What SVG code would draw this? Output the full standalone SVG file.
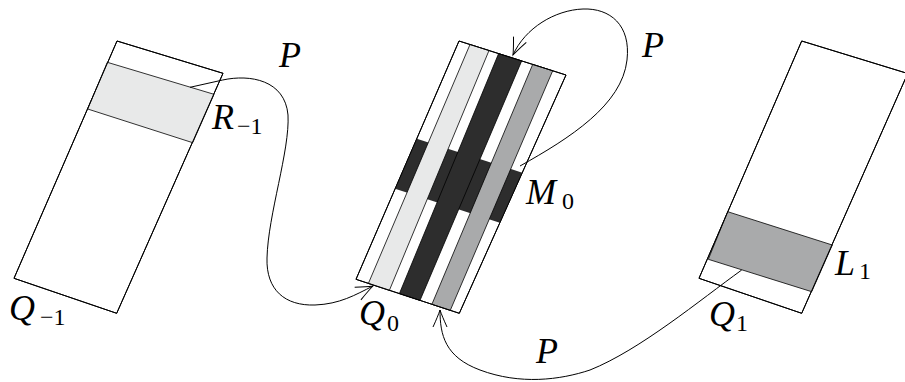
<svg xmlns="http://www.w3.org/2000/svg" width="905" height="382" viewBox="0 0 905 382">
<style>
.out{fill:none;stroke:#000;stroke-width:1}
.wh{fill:#fff;stroke:#000;stroke-width:1}
.lg{fill:#e8e9e9;stroke:#000;stroke-width:0.8}
.mg{fill:#a9aaab;stroke:#000;stroke-width:0.8}
.dk{fill:#2d2d2d;stroke:#000;stroke-width:0.8}
.band{fill:#2d2d2d;stroke:none}
.conn{fill:none;stroke:#000;stroke-width:1}
.lab{font-family:"Liberation Serif","DejaVu Serif",serif;font-style:italic;font-size:36px;fill:#000}
.sub{font-family:"Liberation Serif","DejaVu Serif",serif;font-size:24px;fill:#000}
</style>
<defs>
<marker id="arr" markerUnits="userSpaceOnUse" viewBox="-20 -10 22 20" refX="0" refY="0" markerWidth="22" markerHeight="20" orient="auto">
<path d="M-17,-7 Q-6,-2 0,0 Q-6,2 -17,7" fill="none" stroke="#000" stroke-width="1"/>
</marker>
<clipPath id="q0clip"><polygon points="459,41 566,75 459.3,313.3 356,279.3"/></clipPath>
</defs>

<g id="node-Qm1">
<polygon class="wh" points="117,41 223,73.3 116.7,313.3 14,278.3"/>
<polygon class="lg" points="107.3,62.3 214,94.3 192.7,142.7 87.7,109"/>
<polygon class="out" points="117,41 223,73.3 116.7,313.3 14,278.3"/>
<text class="lab" x="9" y="320">Q</text><text class="sub" x="40" y="325">−1</text>
<text class="lab" x="212" y="129">R</text><text class="sub" x="237" y="134">−1</text>
</g>

<g id="node-Q0">
<polygon class="wh" points="459,41 566,75 459.3,313.3 356,279.3"/>
<g clip-path="url(#q0clip)">
<polygon class="band" points="416.8,138.7 522.3,172.7 499.8,222.7 395.1,188.7"/>
</g>
<polygon class="lg" points="470,44.5 489,50.5 389.4,290.3 368.4,283.4"/>
<polygon class="dk" points="498.6,53.6 521.7,60.9 420,300.4 399.4,293.6"/>
<polygon class="mg" points="532.7,64.4 552.7,70.8 450.3,310.3 431.9,304.3"/>
<polygon class="out" points="459,41 566,75 459.3,313.3 356,279.3"/>
<text class="lab" x="359" y="325">Q</text><text class="sub" x="387" y="331">0</text>
<text class="lab" x="526" y="204">M</text><text class="sub" x="562" y="209">0</text>
</g>

<g id="node-Q1">
<polygon class="wh" points="801.7,41 907.7,73.5 801.7,313.3 699,278.3"/>
<polygon class="mg" points="727.7,211.7 832.3,245 811.7,291.7 708.3,259.3"/>
<polygon class="out" points="801.7,41 907.7,73.5 801.7,313.3 699,278.3"/>
<text class="lab" x="709" y="326">Q</text><text class="sub" x="736" y="331">1</text>
<text class="lab" x="835" y="275">L</text><text class="sub" x="859" y="279">1</text>
</g>

<g id="connectors">
<path class="conn" marker-end="url(#arr)" d="M190,87.3 L222.7,80 C250,74 285,80 288,115 C290,150 268,215 267,258 C266,290 285,306 315,305 C340,304 355,295 373,286"/>
<path class="conn" marker-end="url(#arr)" d="M520,166 C570,138 622,105 627,60 C631,25 610,8 583,9 C555,10 525,28 513,55"/>
<path class="conn" marker-end="url(#arr)" d="M741.7,270 C700,300 640,350 590,370 C560,380 520,385 480,370 C445,357 440,335 440,310"/>
<text class="lab" x="279" y="67">P</text>
<text class="lab" x="642" y="57">P</text>
<text class="lab" x="536" y="363">P</text>
</g>
</svg>
